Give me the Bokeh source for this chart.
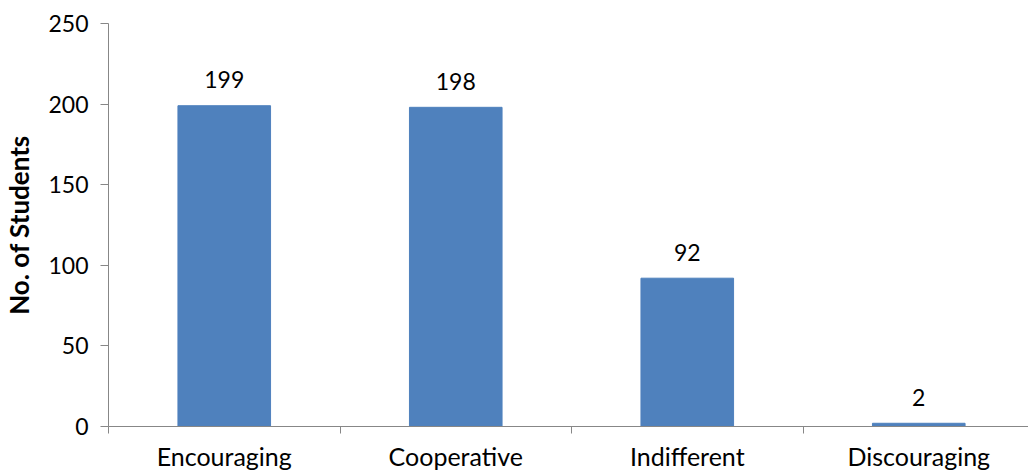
from bokeh.plotting import figure
from bokeh.models import ColumnDataSource, FixedTicker, Range1d
from bokeh.embed import file_html
from bokeh.resources import INLINE
from bokeh.core.properties import value

categories = ["Encouraging", "Cooperative", "Indifferent", "Discouraging"]
students = [199, 198, 92, 2]
y_ticks = [0, 50, 100, 150, 200, 250]

xs = [i + 0.5 for i in range(len(categories))]
src = ColumnDataSource(dict(x=xs, y=students, label=[str(v) for v in students]))

FONT = "Lato"

p = figure(width=1028, height=475, output_backend="svg", toolbar_location=None,
           x_range=Range1d(0, 3.974), y_range=Range1d(0, 250),
           min_border_left=108, min_border_right=0, min_border_top=23, min_border_bottom=49)
p.outline_line_color = None
p.xgrid.visible = False
p.ygrid.visible = False

p.vbar(x="x", top="y", width=0.4, source=src, fill_color="#4F81BD", line_color="#4F81BD")
p.text(x="x", y="y", text="label", source=src, text_align="center", text_baseline="alphabetic",
       y_offset=-26, text_font=value(FONT), text_font_size="23px", text_color="black")

axis_color = "#878787"
# x axis
xa = p.xaxis[0]
xa.ticker = FixedTicker(ticks=xs, minor_ticks=list(range(len(categories) + 1)))
xa.major_label_overrides = {x: c for x, c in zip(xs, categories)}
xa.major_tick_line_color = None
xa.major_tick_in = 0
xa.major_tick_out = 0
xa.minor_tick_in = 0
xa.minor_tick_out = 7
xa.minor_tick_line_color = axis_color
xa.axis_line_color = axis_color
xa.major_label_text_font = FONT
xa.major_label_text_font_size = "25px"
xa.major_label_text_color = "black"
xa.major_label_standoff = 7

# y axis
ya = p.yaxis[0]
ya.ticker = FixedTicker(ticks=y_ticks)
ya.minor_tick_line_color = None
ya.major_tick_in = 0
ya.major_tick_out = 8
ya.major_tick_line_color = axis_color
ya.axis_line_color = axis_color
ya.major_label_text_font = FONT
ya.major_label_text_font_size = "23px"
ya.major_label_text_color = "black"
ya.major_label_standoff = 12
ya.axis_label = "No. of Students"
ya.axis_label_text_font = FONT
ya.axis_label_text_font_style = "bold"
ya.axis_label_text_font_size = "26px"
ya.axis_label_text_color = "black"
ya.axis_label_standoff = 10

open("out.html", "w").write(file_html(p, INLINE))
